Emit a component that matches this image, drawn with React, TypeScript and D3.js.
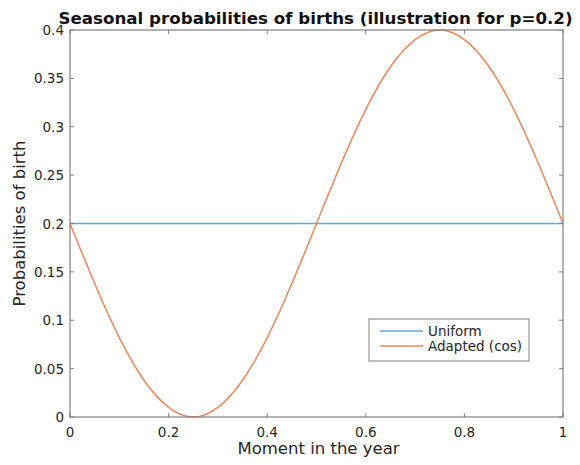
import * as d3 from "d3";
import { useEffect, useRef } from "react";

// moments in the year (x) and read-off probabilities
const moments = [0, 0.05, 0.1, 0.15, 0.2, 0.25, 0.3, 0.35, 0.4, 0.45, 0.5,
  0.55, 0.6, 0.65, 0.7, 0.75, 0.8, 0.85, 0.9, 0.95, 1];
const uniform = [0.2, 0.2, 0.2, 0.2, 0.2, 0.2, 0.2, 0.2, 0.2, 0.2, 0.2,
  0.2, 0.2, 0.2, 0.2, 0.2, 0.2, 0.2, 0.2, 0.2, 0.2];
const adapted = [0.2, 0.138, 0.082, 0.038, 0.01, 0, 0.01, 0.038, 0.082, 0.138, 0.2,
  0.262, 0.318, 0.362, 0.39, 0.4, 0.39, 0.362, 0.318, 0.262, 0.2];
const xTicks = [0, 0.2, 0.4, 0.6, 0.8, 1];
const yTicks = [0, 0.05, 0.1, 0.15, 0.2, 0.25, 0.3, 0.35, 0.4];
const seriesNames = ["Uniform", "Adapted (cos)"];
const colors = ["#5fa8dc", "#f0865a"];

const App = () => {
  const ref = useRef<SVGSVGElement>(null);

  useEffect(() => {
    const svg = d3.select(ref.current);
    svg.selectAll("*").remove();

    const left = 70, top = 30, right = 563, bottom = 417;
    const x = d3.scaleLinear().domain([0, 1]).range([left, right]);
    const y = d3.scaleLinear().domain([0, 0.4]).range([bottom, top]);
    const font = "DejaVu Sans, sans-serif";
    const txt = "#262626";

    svg.append("rect").attr("width", 580).attr("height", 465).attr("fill", "#fff");

    // lines
    const line = d3.line<number>()
      .x((_, i) => x(moments[i]))
      .y((d) => y(d))
      .curve(d3.curveNatural);
    [uniform, adapted].forEach((s, k) => {
      svg.append("path").datum(s)
        .attr("d", line)
        .attr("fill", "none")
        .attr("stroke", colors[k])
        .attr("stroke-width", 1.5);
    });

    // box frame
    svg.append("rect")
      .attr("x", left).attr("y", top)
      .attr("width", right - left).attr("height", bottom - top)
      .attr("fill", "none").attr("stroke", "#7f7f7f").attr("stroke-width", 1.2);

    const tickLen = 4;
    const g = svg.append("g").attr("stroke", "#7f7f7f").attr("stroke-width", 1);
    xTicks.forEach((t) => {
      g.append("line").attr("x1", x(t)).attr("x2", x(t)).attr("y1", bottom).attr("y2", bottom - tickLen);
      g.append("line").attr("x1", x(t)).attr("x2", x(t)).attr("y1", top).attr("y2", top + tickLen);
    });
    yTicks.forEach((t) => {
      g.append("line").attr("x1", left).attr("x2", left + tickLen).attr("y1", y(t)).attr("y2", y(t));
      g.append("line").attr("x1", right).attr("x2", right - tickLen).attr("y1", y(t)).attr("y2", y(t));
    });

    // tick labels
    svg.append("g").selectAll("text").data(xTicks).join("text")
      .attr("x", (d) => x(d)).attr("y", bottom + 20)
      .attr("text-anchor", "middle")
      .attr("font-family", font).attr("font-size", 13.5).attr("fill", txt)
      .text((d) => d3.format("~g")(d));
    svg.append("g").selectAll("text").data(yTicks).join("text")
      .attr("x", left - 6).attr("y", (d) => y(d) + 5)
      .attr("text-anchor", "end")
      .attr("font-family", font).attr("font-size", 13.5).attr("fill", txt)
      .text((d) => d3.format("~g")(d));

    // title and axis labels
    svg.append("text")
      .attr("x", (left + right) / 2 - 1).attr("y", 24)
      .attr("text-anchor", "middle")
      .attr("font-family", font).attr("font-size", 16.7).attr("font-weight", "bold").attr("fill", "#111")
      .text("Seasonal probabilities of births (illustration for p=0.2)");
    svg.append("text")
      .attr("x", (left + right) / 2 + 2).attr("y", 454)
      .attr("text-anchor", "middle")
      .attr("font-family", font).attr("font-size", 16.5).attr("fill", txt)
      .text("Moment in the year");
    svg.append("text")
      .attr("transform", `translate(25,${(top + bottom) / 2}) rotate(-90)`)
      .attr("text-anchor", "middle")
      .attr("font-family", font).attr("font-size", 16.5).attr("fill", txt)
      .text("Probabilities of birth");

    // legend
    const lg = svg.append("g").attr("transform", "translate(369,319)");
    lg.append("rect").attr("width", 160).attr("height", 42)
      .attr("fill", "#fff").attr("stroke", "#7f7f7f").attr("stroke-width", 1);
    seriesNames.forEach((n, k) => {
      const ly = 12 + k * 15;
      lg.append("line").attr("x1", 11).attr("x2", 54).attr("y1", ly).attr("y2", ly)
        .attr("stroke", colors[k]).attr("stroke-width", 1.5);
      lg.append("text").attr("x", 59).attr("y", ly + 5)
        .attr("font-family", font).attr("font-size", 13.5).attr("fill", txt)
        .text(n);
    });
  }, []);

  return <svg ref={ref} width={580} height={465} style={{ position: "absolute", left: 0, top: 0 }}></svg>;
};

export default App;
